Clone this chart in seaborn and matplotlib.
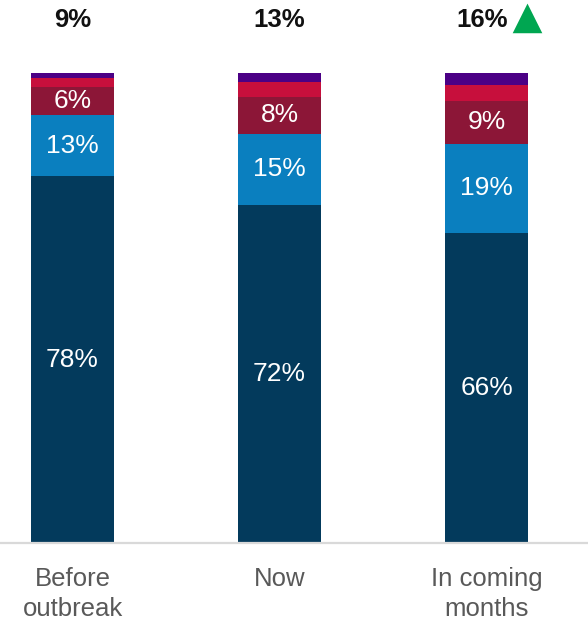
import numpy as np
import pandas as pd
import matplotlib
matplotlib.use("Agg")
import matplotlib.pyplot as plt
import seaborn as sns

# Share of respondents by segment, stacked bottom to top
categories = ["Before\noutbreak", "Now", "In coming\nmonths"]
seg_core = [78, 72, 66]
seg_blue = [13, 15, 19]
seg_maroon = [6, 8, 9]
seg_red = [2, 3, 3.5]
seg_purple = [1, 2, 2.5]
top_labels = ["9%", "13%", "16%"]

colors = ["#033a5c", "#0a7fbf", "#8c1637", "#c70f3c", "#4b0085"]
layers = [seg_core, seg_blue, seg_maroon, seg_red, seg_purple]
labelled = [True, True, True, False, False]

sns.set_theme(style="white")
plt.rcParams["font.family"] = ["Liberation Sans", "DejaVu Sans"]

fig = plt.figure(figsize=(5.88, 6.25), dpi=100)
ax = fig.add_axes([0, 82 / 625, 1, 470 / 625])

# cumulative tops, drawn from the tallest down so each layer shows its slice
cum = np.cumsum(np.array(layers, dtype=float), axis=0)
for i in range(len(layers) - 1, -1, -1):
    df = pd.DataFrame({"cat": categories, "val": cum[i]})
    sns.barplot(data=df, x="cat", y="val", color=colors[i], saturation=1,
                width=0.40, ax=ax, edgecolor="none", linewidth=0)

# segment value labels
for i, (layer, show) in enumerate(zip(layers, labelled)):
    if not show:
        continue
    for j, v in enumerate(layer):
        bottom = cum[i][j] - v
        ax.text(j, bottom + v / 2, f"{v:g}%", ha="center", va="center",
                color="white", fontsize=19)

# totals above the bars
for j, t in enumerate(top_labels):
    ax.text(j - (0.02 if j == 2 else 0), 111.3, t, ha="center", va="center",
            fontsize=18.5, fontweight="bold", color="#111111", clip_on=False)

# upward indicator next to the last total
ax.plot([2.196], [111.5], marker="^", markersize=17, color="#00a651",
        markeredgecolor="#00a651", markeredgewidth=2.5, clip_on=False,
        linestyle="none")

ax.set_xlim(-72.5 / 207, (588 - 72.5) / 207)
ax.set_ylim(0, 100)
ax.set_xlabel("")
ax.set_ylabel("")
ax.set_yticks([])
ax.tick_params(axis="x", length=0, pad=17, labelsize=18.5, labelcolor="#595959")
for s in ["top", "left", "right"]:
    ax.spines[s].set_visible(False)
ax.spines["bottom"].set_color("#d9d9d9")
ax.spines["bottom"].set_linewidth(1.6)
for lbl in ax.get_xticklabels():
    lbl.set_linespacing(1.33)

fig.savefig("out.png", dpi=100, facecolor="white")
